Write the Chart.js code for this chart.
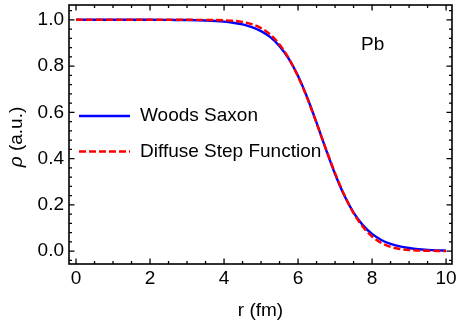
<!DOCTYPE html>
<html lang="en">
<head>
    <meta charset="UTF-8">
    <title>Density profile - Pb</title>
    <script src="https://cdn.jsdelivr.net/npm/chart.js"></script>
    <style>
        html, body { margin: 0; padding: 0; background: #fff; }
        #wrap { width: 457px; height: 321px; }
    </style>
</head>
<body>
<div id="wrap"><canvas id="density-chart" width="457" height="321"></canvas></div>
<script>
// radius grid (fm) and the two density profiles
const radius = [0, 0.5, 1, 1.5, 2, 2.5, 3, 3.5, 4, 4.25, 4.5, 4.75, 5, 5.25, 5.5, 5.75,
    6, 6.25, 6.5, 6.75, 7, 7.25, 7.5, 7.75, 8, 8.25, 8.5, 8.75, 9, 9.25, 9.5, 9.75, 10];
const woodsSaxon = [1.0, 1.0, 1.0, 1.0, 1.0, 0.9995, 0.999, 0.997, 0.992, 0.987, 0.980, 0.968,
    0.951, 0.925, 0.886, 0.831, 0.757, 0.663, 0.555, 0.441, 0.333, 0.240, 0.166, 0.112,
    0.074, 0.048, 0.031, 0.020, 0.013, 0.008, 0.005, 0.003, 0.002];
const diffuseStep = [1.0, 1.0, 1.0, 1.0, 1.0, 1.0, 1.0, 0.9995, 0.998, 0.996, 0.991, 0.981,
    0.964, 0.936, 0.893, 0.833, 0.755, 0.660, 0.553, 0.443, 0.337, 0.242, 0.164, 0.105,
    0.063, 0.035, 0.018, 0.009, 0.004, 0.002, 0.001, 0.0005, 0.0];

const xTicks = [0, 2, 4, 6, 8, 10];
const yTicks = [0.0, 0.2, 0.4, 0.6, 0.8, 1.0];
const xMinor = [0.5, 1, 1.5, 2.5, 3, 3.5, 4.5, 5, 5.5, 6.5, 7, 7.5, 8.5, 9, 9.5];
const yMinor = [-0.04, 0.04, 0.08, 0.12, 0.16, 0.24, 0.28, 0.32, 0.36, 0.44, 0.48, 0.52, 0.56,
    0.64, 0.68, 0.72, 0.76, 0.84, 0.88, 0.92, 0.96, 1.04];

const FONT = '19px "Liberation Sans", Arial, sans-serif';

function pts(ys) {
    return radius.map((r, i) => ({ x: r, y: ys[i] }));
}

// frame, inward ticks, labels, legend and annotation
const framePlugin = {
    id: 'frame',
    afterDraw(chart) {
        const c = chart.ctx;
        const a = chart.chartArea;
        const xs = chart.scales.x, ys = chart.scales.y;
        c.save();
        c.strokeStyle = '#000';
        c.lineWidth = 1.6;
        c.strokeRect(a.left, a.top, a.right - a.left, a.bottom - a.top);

        c.lineWidth = 1.3;
        c.beginPath();
        const tickX = (v, len) => {
            const p = xs.getPixelForValue(v);
            c.moveTo(p, a.bottom); c.lineTo(p, a.bottom - len);
            c.moveTo(p, a.top); c.lineTo(p, a.top + len);
        };
        const tickY = (v, len) => {
            const p = ys.getPixelForValue(v);
            c.moveTo(a.left, p); c.lineTo(a.left + len, p);
            c.moveTo(a.right, p); c.lineTo(a.right - len, p);
        };
        xTicks.forEach(v => tickX(v, 5.5));
        xMinor.forEach(v => tickX(v, 3));
        yTicks.forEach(v => tickY(v, 5.5));
        yMinor.forEach(v => tickY(v, 3));
        c.stroke();

        c.fillStyle = '#000';
        c.font = FONT;
        c.textAlign = 'center';
        c.textBaseline = 'middle';
        xTicks.forEach(v => c.fillText(String(v), xs.getPixelForValue(v), 279));
        c.textAlign = 'right';
        yTicks.forEach(v => c.fillText(v.toFixed(1), 64, ys.getPixelForValue(v)));

        // axis titles
        c.textAlign = 'center';
        c.fillText('r (fm)', (a.left + a.right) / 2, 311);
        c.save();
        c.translate(17, 137);
        c.rotate(-Math.PI / 2);
        c.font = 'italic ' + FONT;
        const rho = '\u03C1';
        const rest = ' (a.u.)';
        const w1 = c.measureText(rho).width;
        c.font = FONT;
        const w2 = c.measureText(rest).width;
        c.textAlign = 'left';
        c.font = 'italic ' + FONT;
        c.fillText(rho, -(w1 + w2) / 2, 0);
        c.font = FONT;
        c.fillText(rest, -(w1 + w2) / 2 + w1, 0);
        c.restore();

        // legend
        c.textAlign = 'left';
        c.lineWidth = 2.4;
        c.strokeStyle = '#0000ff';
        c.beginPath(); c.moveTo(79, 116); c.lineTo(130, 116); c.stroke();
        c.fillText('Woods Saxon', 140, 116);
        c.strokeStyle = '#ff0000';
        c.lineWidth = 2.4;
        c.setLineDash([7, 3]);
        c.beginPath(); c.moveTo(79, 151.5); c.lineTo(130, 151.5); c.stroke();
        c.setLineDash([]);
        c.fillText('Diffuse Step Function', 140, 151.5);

        c.fillText('Pb', 361, 45);
        c.restore();
    }
};

new Chart(document.getElementById('density-chart').getContext('2d'), {
    type: 'scatter',
    data: {
        datasets: [
            {
                label: 'Woods Saxon',
                data: pts(woodsSaxon),
                showLine: true,
                borderColor: '#0000ff',
                borderWidth: 2.4,
                pointRadius: 0,
                cubicInterpolationMode: 'monotone',
                order: 2
            },
            {
                label: 'Diffuse Step Function',
                data: pts(diffuseStep),
                showLine: true,
                borderColor: '#ff0000',
                borderWidth: 2.4,
                borderDash: [7, 3],
                pointRadius: 0,
                cubicInterpolationMode: 'monotone',
                order: 1
            }
        ]
    },
    options: {
        responsive: false,
        animation: false,
        events: [],
        layout: { padding: { left: 69, right: 5, top: 5, bottom: 57 } },
        plugins: { legend: { display: false }, tooltip: { enabled: false } },
        scales: {
            x: { type: 'linear', display: false, min: -0.19, max: 10.16 },
            y: { type: 'linear', display: false, min: -0.056, max: 1.064 }
        }
    },
    plugins: [framePlugin]
});
</script>
</body>
</html>
